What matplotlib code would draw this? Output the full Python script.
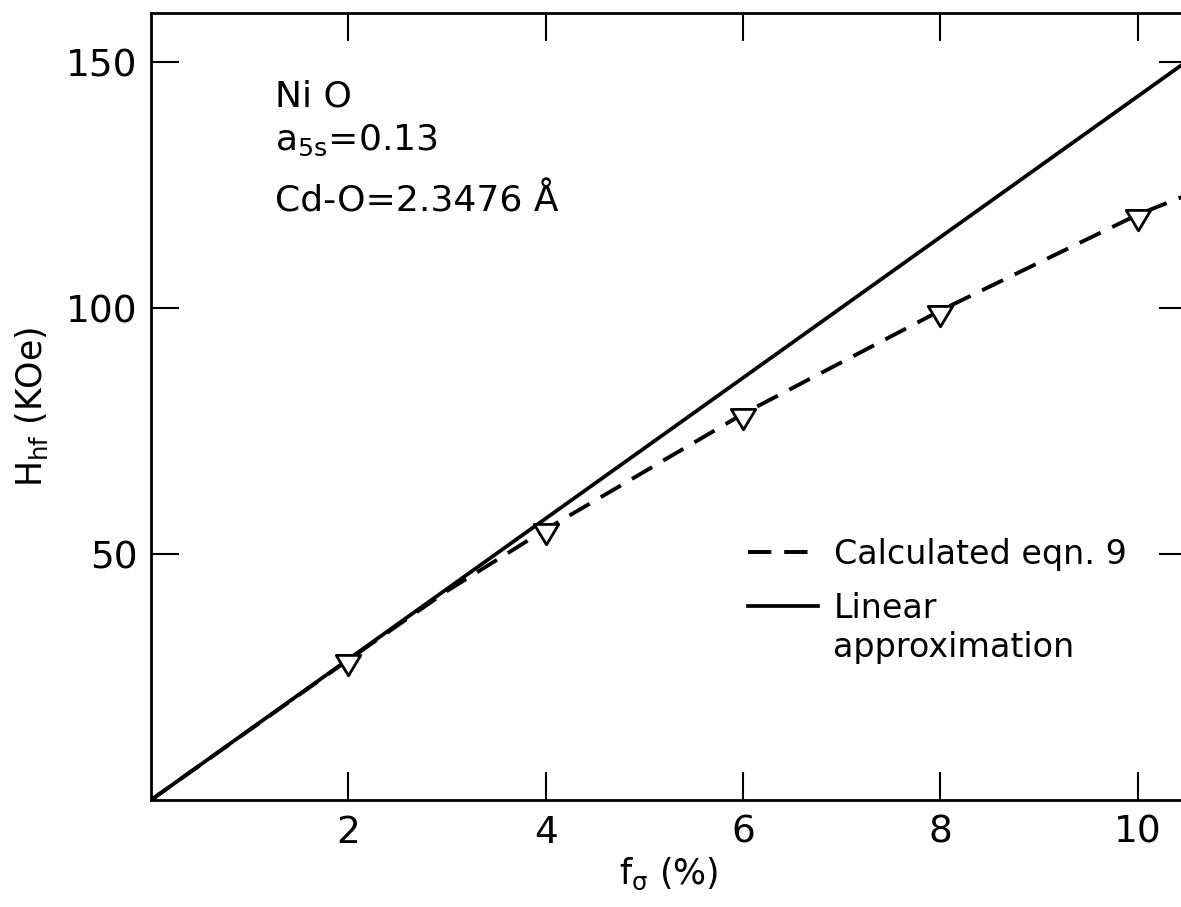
import numpy as np
import matplotlib.pyplot as plt
from matplotlib.path import Path
from matplotlib.lines import Line2D

plt.rcParams['font.family'] = ['DejaVu Sans']
plt.rcParams['mathtext.default'] = 'regular'

# ---- data (hyperfine field vs. covalency fraction) ----
calc_x = [0.0, 2.0, 3.0, 4.0, 6.0, 8.0, 10.0, 10.5]
calc_y = [0.0, 28.5, 42.5, 55.0, 78.5, 99.5, 119.0, 123.0]
calc_marks = [1, 3, 4, 5, 6]          # points carrying a triangle

lin_x = [0.0, 10.5]
lin_y = [0.0, 150.2]

x_ticks = [2, 4, 6, 8, 10]
y_ticks = [50, 100, 150]

# down-pointing triangle whose top edge sits near the data point
tri = Path([(-0.6, 0.25), (0.6, 0.25), (0.0, -0.75), (-0.6, 0.25)],
           [Path.MOVETO, Path.LINETO, Path.LINETO, Path.CLOSEPOLY])

DASH = (0, (6, 3.3))

fig = plt.figure(figsize=(11.81, 9.07), dpi=100)
ax = fig.add_axes([151 / 1181, 107 / 907, 1036 / 1181, 787 / 907])

ax.plot(lin_x, lin_y, color='black', lw=2.7, solid_capstyle='butt')
ax.plot(calc_x, calc_y, color='black', lw=2.8, linestyle=DASH,
        marker=tri, markevery=calc_marks, ms=22, mfc='white',
        mec='black', mew=2.0)

ax.set_xlim(0, 10.5)
ax.set_ylim(0, 160)
ax.set_xticks(x_ticks)
ax.set_yticks(y_ticks)
ax.tick_params(direction='in', length=20, width=1.5, top=True, right=True,
               labelsize=27)
ax.tick_params(axis='x', pad=10.5)
ax.tick_params(axis='y', pad=9.5)
for s in ax.spines.values():
    s.set_linewidth(2.0)

ax.set_xlabel(r'$f_{\sigma}$ (%)', fontsize=25, labelpad=4)
ax.set_ylabel(r'$H_{hf}$ (KOe)', fontsize=25, labelpad=12)

# sample description, upper left
ax.text(0.12, 0.881, 'Ni O', transform=ax.transAxes, fontsize=26,
        va='baseline')
ax.text(0.12, 0.826, r'$a_{5s}$=0.13', transform=ax.transAxes, fontsize=26,
        va='baseline')
ax.text(0.12, 0.748, 'Cd-O=2.3476 Å', transform=ax.transAxes, fontsize=26,
        va='baseline')

handles = [Line2D([], [], color='black', lw=2.8, linestyle=DASH),
           Line2D([], [], color='black', lw=2.7)]
ax.legend(handles, ['Calculated eqn. 9', 'Linear'],
          loc='upper left', bbox_to_anchor=(0.563, 0.35), frameon=False,
          fontsize=24, handlelength=2.1, handletextpad=0.48,
          labelspacing=0.62, borderaxespad=0)
ax.text(0.658, 0.1817, 'approximation', transform=ax.transAxes,
        fontsize=24, va='baseline')

fig.savefig('out.png', dpi=100)
